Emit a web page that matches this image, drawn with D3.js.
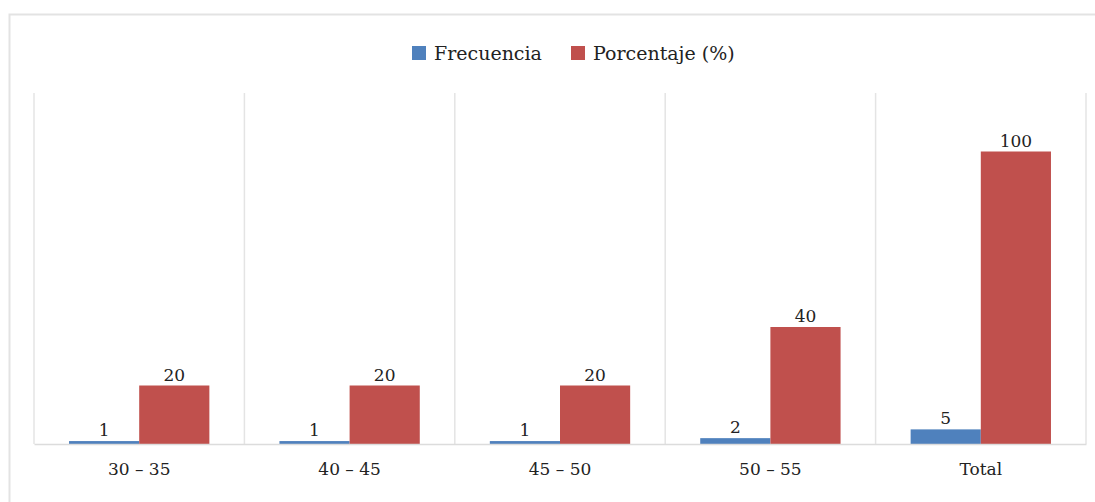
<!DOCTYPE html>
<html>
<head>
<meta charset="utf-8">
<script src="https://cdn.jsdelivr.net/npm/d3@7"></script>
<style>
  html, body { margin: 0; padding: 0; background: #fff; }
  svg { display: block; }
  text { font-family: "DejaVu Serif", serif; fill: #222; }
</style>
</head>
<body>
<svg id="chart" width="1095" height="502"></svg>
<script>
// Age ranges and their counts / percentages
const categories = ["30 – 35", "40 – 45", "45 – 50", "50 – 55", "Total"];
const frecuencia = [1, 1, 1, 2, 5];
const porcentaje = [20, 20, 20, 40, 100];
const seriesNames = ["Frecuencia", "Porcentaje (%)"];
const seriesColors = ["#4F81BD", "#C0504D"];

const svg = d3.select("#chart");
const W = 1095, H = 502;
const plot = { left: 34, right: 1086, top: 93, bottom: 444 };
const FONT = "DejaVu Serif, serif";

// outer frame (top and left edges visible)
svg.append("path")
  .attr("d", `M9.5,${H} V14.5 H${W}`)
  .attr("fill", "none")
  .attr("stroke", "#e3e3e3")
  .attr("stroke-width", 2);

const x0 = d3.scaleBand()
  .domain(categories)
  .range([plot.left, plot.right])
  .paddingInner(0.333)
  .paddingOuter(0.1665);

const x1 = d3.scaleBand()
  .domain(seriesNames)
  .range([0, x0.bandwidth()]);

const y = d3.scaleLinear().domain([0, 120]).range([plot.bottom, plot.top]);

// vertical separators between categories
const step = x0.step();
const seps = d3.range(categories.length + 1).map(i => plot.left + i * step);
svg.append("g").selectAll("line").data(seps).join("line")
  .attr("x1", d => d).attr("x2", d => d)
  .attr("y1", plot.top).attr("y2", plot.bottom)
  .attr("stroke", "#e4e4e4").attr("stroke-width", 1.5);

const rows = categories.map((c, i) => ({ cat: c, vals: [frecuencia[i], porcentaje[i]] }));

const groups = svg.append("g").selectAll("g").data(rows).join("g")
  .attr("transform", d => `translate(${x0(d.cat)},0)`);

groups.selectAll("rect")
  .data(d => d.vals.map((v, j) => ({ v, j })))
  .join("rect")
  .attr("x", d => x1(seriesNames[d.j]))
  .attr("width", x1.bandwidth())
  .attr("y", d => y(d.v))
  .attr("height", d => y(0) - y(d.v))
  .attr("fill", d => seriesColors[d.j]);

groups.selectAll("text.val")
  .data(d => d.vals.map((v, j) => ({ v, j })))
  .join("text")
  .attr("class", "val")
  .attr("x", d => x1(seriesNames[d.j]) + x1.bandwidth() / 2)
  .attr("y", d => y(d.v) - 5)
  .attr("text-anchor", "middle")
  .attr("font-family", FONT)
  .attr("font-size", 17)
  .text(d => d.v);

// baseline axis
const xAxis = d3.axisBottom(x0).tickSize(0).tickPadding(19);
const ax = svg.append("g")
  .attr("transform", `translate(0,${plot.bottom})`)
  .call(xAxis);
ax.attr("font-family", FONT);
ax.select(".domain").attr("stroke", "#dcdcdc").attr("stroke-width", 1.5);
ax.selectAll("text")
  .attr("font-size", 17)
  .attr("font-family", FONT)
  .attr("fill", "#222");

// legend
const legend = svg.append("g");
const legendItems = [
  { name: seriesNames[0], color: seriesColors[0], x: 412 },
  { name: seriesNames[1], color: seriesColors[1], x: 571 }
];
legendItems.forEach(it => {
  legend.append("rect")
    .attr("x", it.x).attr("y", 46)
    .attr("width", 14).attr("height", 14)
    .attr("fill", it.color);
  legend.append("text")
    .attr("x", it.x + 22).attr("y", 60)
    .attr("font-family", FONT)
    .attr("font-size", 19)
    .text(it.name);
});
</script>
</body>
</html>
